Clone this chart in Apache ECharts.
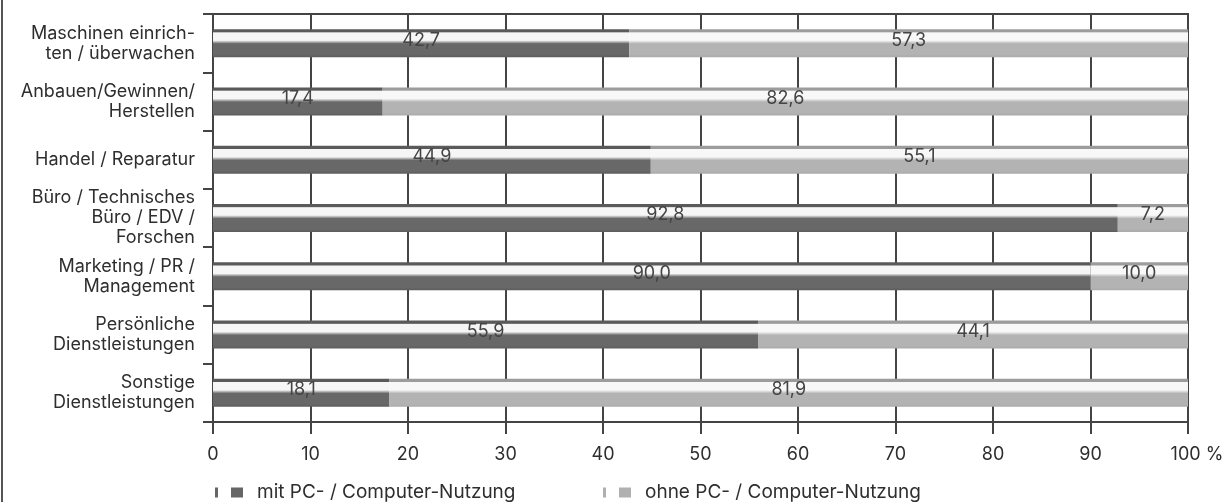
<!DOCTYPE html>
<html>
<head>
<meta charset="utf-8">
<script src="https://cdn.jsdelivr.net/npm/echarts@6/dist/echarts.min.js"></script>
<style>
html,body{margin:0;padding:0;background:#fff;}
#c{width:1232px;height:502px;}
</style>
</head>
<body>
<div id="c"></div>
<script>
const categories = [
  'Maschinen einrich-\nten / überwachen',
  'Anbauen/Gewinnen/\nHerstellen',
  'Handel / Reparatur',
  'Büro / Technisches\nBüro / EDV /\nForschen',
  'Marketing / PR /\nManagement',
  'Persönliche\nDienstleistungen',
  'Sonstige\nDienstleistungen'
];
const mitPC = [42.7, 17.4, 44.9, 92.8, 90.0, 55.9, 18.1];
const ohnePC = [57.3, 82.6, 55.1, 7.2, 10.0, 44.1, 81.9];
const seriesNames = ['mit PC- / Computer-Nutzung', 'ohne PC- / Computer-Nutzung'];
const xTicks = [0, 10, 20, 30, 40, 50, 60, 70, 80, 90, 100];

const FONT = 'Inter';
const TXT = '#2e2e2e';

function barGradient(stripe, white, body, bottom) {
  return new echarts.graphic.LinearGradient(0, 0, 0, 1, [
    {offset: 0, color: stripe},
    {offset: 0.1, color: stripe},
    {offset: 0.13, color: white},
    {offset: 0.40, color: white},
    {offset: 0.52, color: body},
    {offset: 0.9, color: body},
    {offset: 1, color: bottom}
  ]);
}

const iconPath = 'path://M0,0h3v10h-3z M16,0h12v10h-12z';

const chart = echarts.init(document.getElementById('c'), null, {renderer: 'canvas'});
chart.setOption({
  animation: false,
  backgroundColor: '#ffffff',
  textStyle: {fontFamily: FONT},
  grid: {
    left: 213, right: 44, top: 14, bottom: 80,
    show: true, borderColor: '#444', borderWidth: 2, backgroundColor: 'transparent'
  },
  legend: [
    {
      data: [{name: seriesNames[0], itemStyle: {color: '#666'}}],
      left: 210, top: 478,
      itemWidth: 30, itemHeight: 10,
      icon: iconPath,
      textStyle: {fontFamily: FONT, fontSize: 19, color: TXT, padding: [0, 0, 0, 8]}
    },
    {
      data: [{name: seriesNames[1], itemStyle: {color: '#b0b0b0'}}],
      left: 598, top: 478,
      itemWidth: 30, itemHeight: 10,
      icon: iconPath,
      textStyle: {fontFamily: FONT, fontSize: 19, color: TXT, padding: [0, 0, 0, 8]}
    }
  ],
  xAxis: {
    type: 'value', min: 0, max: 100, interval: 10,
    axisLine: {show: true, lineStyle: {color: '#444', width: 2}},
    axisTick: {show: true, length: 12, lineStyle: {color: '#444', width: 2}},
    splitLine: {show: true, lineStyle: {color: '#444', width: 2}},
    axisLabel: {
      fontFamily: FONT, fontSize: 18, color: TXT, margin: 24,
      formatter: function (v) {
        if (xTicks.indexOf(v) < 0) return '';
        return v === 100 ? '{p|100 %}' : String(v);
      },
      rich: {p: {fontFamily: FONT, fontSize: 18, color: TXT, padding: [0, 0, 0, 18]}}
    }
  },
  yAxis: {
    type: 'category', data: categories, inverse: true,
    axisLine: {show: true, lineStyle: {color: '#444', width: 2}},
    axisTick: {show: true, length: 10, lineStyle: {color: '#444', width: 2}},
    splitLine: {show: false},
    axisLabel: {
      fontFamily: FONT, fontSize: 18, color: TXT, margin: 18,
      lineHeight: 20, align: 'right'
    }
  },
  series: [
    {
      name: seriesNames[0], type: 'bar', stack: 'total', data: mitPC,
      barWidth: 28,
      itemStyle: {color: barGradient('#5a5a5a', '#f6f6f6', '#686868', '#5c5c5c')},
      label: {
        show: true, position: 'inside', offset: [0, -3],
        fontFamily: FONT, fontSize: 18, color: '#444',
        formatter: p => p.value.toFixed(1).replace('.', ',')
      }
    },
    {
      name: seriesNames[1], type: 'bar', stack: 'total', data: ohnePC,
      barWidth: 28,
      itemStyle: {color: barGradient('#9c9c9c', '#f8f8f8', '#b3b3b3', '#aaaaaa')},
      label: {
        show: true, position: 'inside', offset: [0, -3],
        fontFamily: FONT, fontSize: 18, color: '#444',
        formatter: p => p.value.toFixed(1).replace('.', ',')
      }
    }
  ],
  graphic: [
    {type: 'line', shape: {x1: 2, y1: 0, x2: 2, y2: 502}, style: {stroke: '#555', lineWidth: 2}}
  ]
});
</script>
</body>
</html>
